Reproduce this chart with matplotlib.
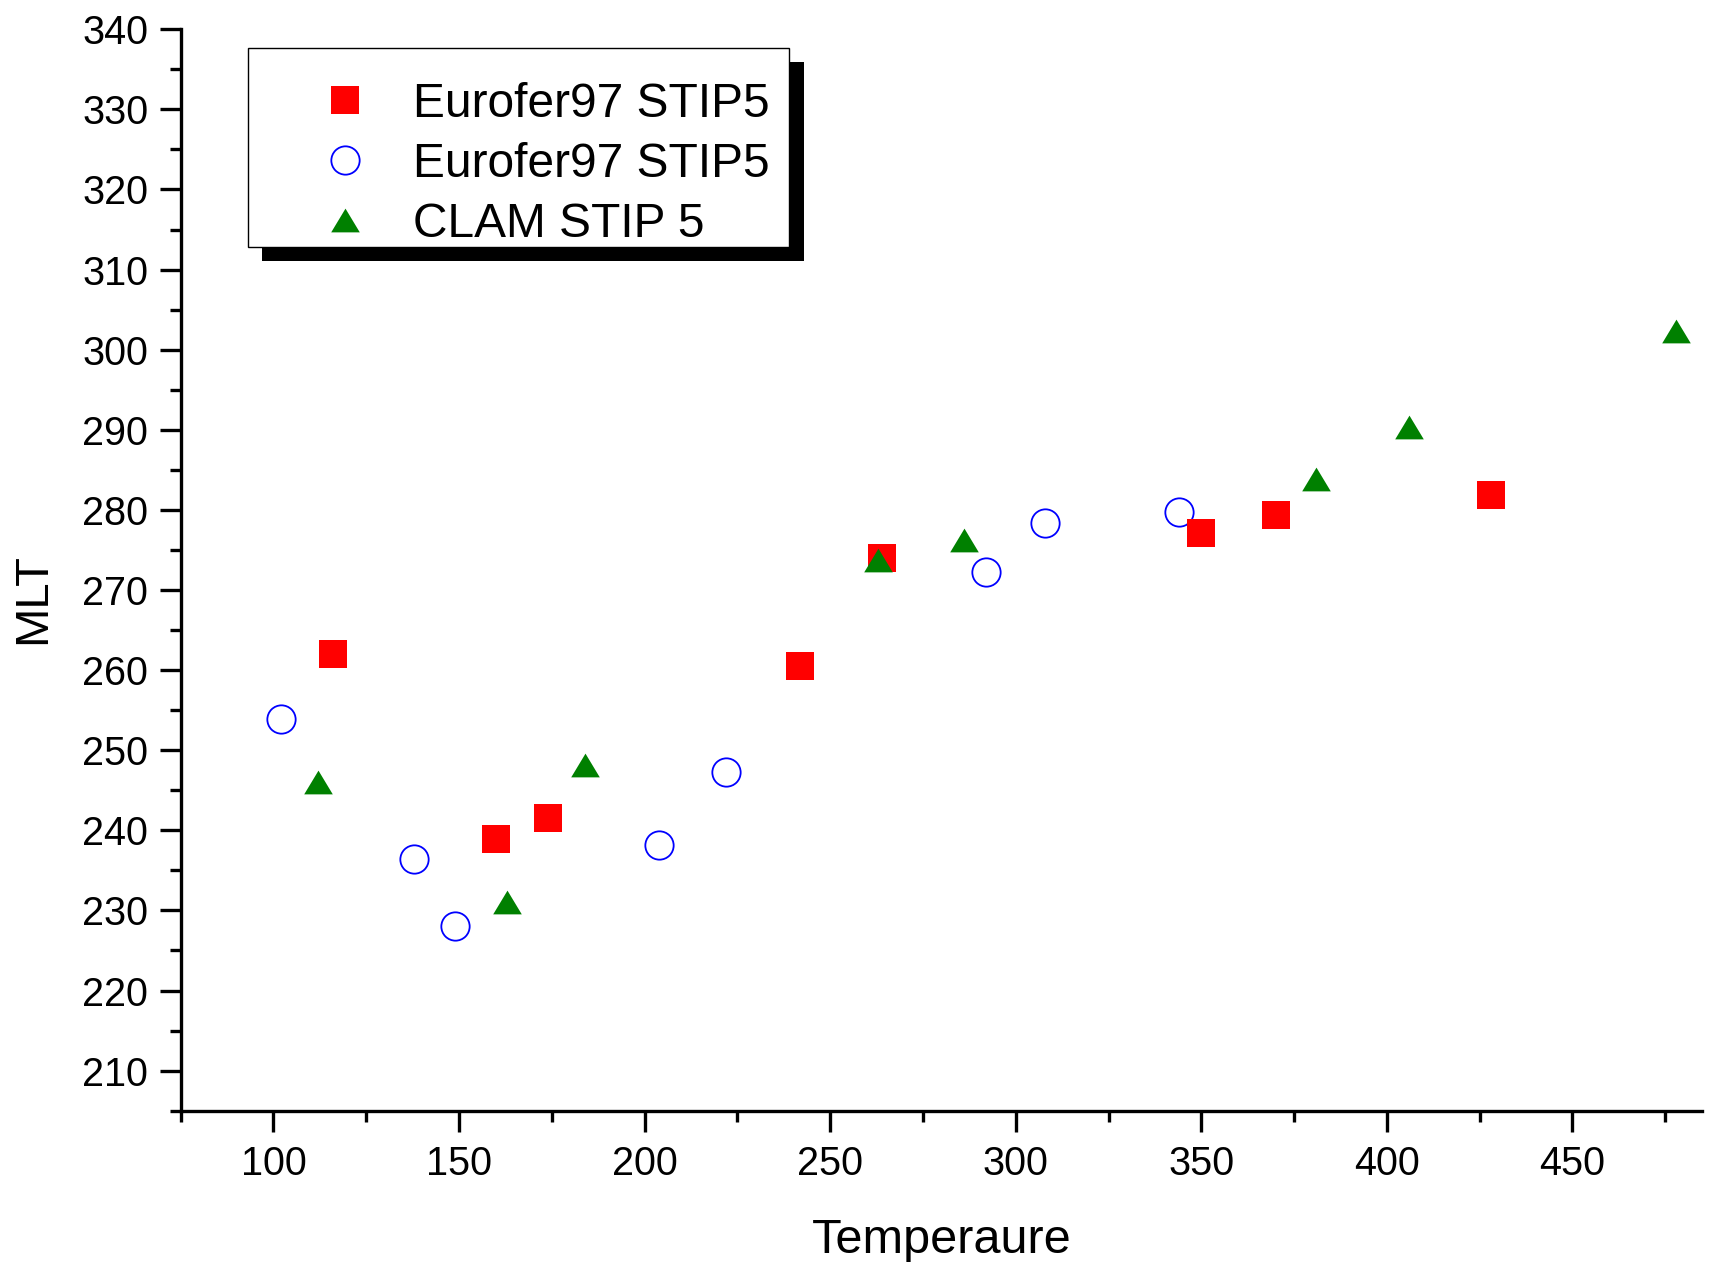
import matplotlib
matplotlib.use("Agg")
import matplotlib.pyplot as plt
from matplotlib.patches import Rectangle
from matplotlib.ticker import MultipleLocator

plt.rcParams['font.family'] = ['Liberation Sans', 'DejaVu Sans']

# Eurofer97 STIP5 (filled squares)
euro_sq_T = [116, 160, 174, 242, 264, 350, 370, 428]
euro_sq_mlt = [262.0, 238.9, 241.6, 260.5, 274.0, 277.1, 279.4, 281.9]

# Eurofer97 STIP5 (open circles)
euro_ci_T = [102, 138, 149, 204, 222, 292, 308, 344]
euro_ci_mlt = [253.9, 236.4, 228.1, 238.2, 247.3, 272.2, 278.4, 279.7]

# CLAM STIP 5 (triangles)
clam_T = [112, 163, 184, 263, 286, 381, 406, 478]
clam_mlt = [246.0, 231.1, 248.2, 273.8, 276.2, 283.9, 290.3, 302.3]

labels = ['Eurofer97 STIP5', 'Eurofer97 STIP5', 'CLAM STIP 5']

W, H = 1714, 1262
fig = plt.figure(figsize=(W / 100, H / 100), dpi=100)
ax = fig.add_axes([0.1054, 0.1199, 0.8878, 0.8569])

# flat triangle like Origin's
tri = [(0, 0.83), (-1, -0.83), (1, -0.83)]

h1, = ax.plot(euro_sq_T, euro_sq_mlt, ls='none', marker='s', ms=20.2,
              mfc='#ff0000', mec='#ff0000', mew=0, zorder=3)
h2, = ax.plot(euro_ci_T, euro_ci_mlt, ls='none', marker='o', ms=20.4,
              mfc='none', mec='#0000ff', mew=1.3, zorder=2)
h3, = ax.plot(clam_T, clam_mlt, ls='none', marker=tri, ms=20.6,
              mfc='#008000', mec='#008000', mew=0, zorder=4)

ax.set_xlim(75, 485)
ax.set_ylim(205, 340)
ax.xaxis.set_major_locator(MultipleLocator(50))
ax.xaxis.set_minor_locator(MultipleLocator(25))
ax.yaxis.set_major_locator(MultipleLocator(10))
ax.yaxis.set_minor_locator(MultipleLocator(5))

for s in ['top', 'right']:
    ax.spines[s].set_visible(False)
for s in ['left', 'bottom']:
    ax.spines[s].set_linewidth(2.4)

ax.tick_params(which='major', direction='out', length=14.8, width=2.4,
               labelsize=28.5)
ax.tick_params(which='minor', direction='out', length=8, width=2.4)
ax.tick_params(axis='y', which='major', pad=8.5)
ax.tick_params(axis='x', which='major', pad=10)

ax.set_xlabel('Temperaure', fontsize=35, va='baseline')
ax.xaxis.set_label_coords(0.5, -0.1313)
ax.set_ylabel('MLT', fontsize=34, va='center')
ax.yaxis.set_label_coords(-0.0971, 0.4737)

# legend box with a hard black drop shadow
def px_rect(x0, y0, x1, y1, **kw):
    return Rectangle((x0 / W, 1 - y1 / H), (x1 - x0) / W, (y1 - y0) / H,
                     transform=fig.transFigure, **kw)

fig.add_artist(px_rect(262, 62, 804, 261, facecolor='black',
                       edgecolor='none', zorder=1))
fig.add_artist(px_rect(248, 48, 789, 247, facecolor='white',
                       edgecolor='black', lw=1.0, zorder=2))

fig.legend([h1, h2, h3], labels, loc='upper left',
           bbox_to_anchor=(321 / W, 1 - 82 / H), borderaxespad=0,
           borderpad=0, frameon=False, fontsize=34.5, handlelength=1.0,
           handletextpad=0.92, labelspacing=0.31, markerscale=1.0,
           ).set_zorder(5)

fig.savefig('out.png', dpi=100)
